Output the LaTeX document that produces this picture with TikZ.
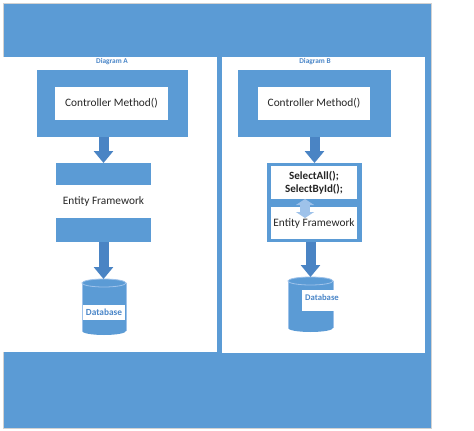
\documentclass[tikz,border=0pt]{standalone}
\usepackage{fontspec}
\setmainfont{Carlito}
\usetikzlibrary{arrows.meta,calc}
\definecolor{mblue}{HTML}{5B9BD5}
\definecolor{ablue}{HTML}{4A84C4}
\definecolor{lblue}{HTML}{9EC2EA}
\definecolor{tblue}{HTML}{4A86C8}
\definecolor{txt}{HTML}{262626}
\begin{document}
\begin{tikzpicture}[x=0.75pt,y=-0.75pt,
  box/.style={rectangle, inner sep=0pt, outer sep=0pt, fill=mblue},
  wbox/.style={rectangle, inner sep=0pt, outer sep=0pt, fill=white, text=txt,
    font=\fontsize{8.5}{10}\selectfont, align=center},
  blockarrow/.style={draw=ablue, line width=7.5pt, -{Triangle[width=14.25pt,length=9pt]}},
  dblarrow/.style={draw=lblue, line width=7pt,
    {Triangle[width=13.5pt,length=4.5pt]}-{Triangle[width=13.5pt,length=4.5pt]}},
  panellabel/.style={font=\bfseries\fontsize{5.5}{6}\selectfont, text=tblue, inner sep=0pt},
  dblabel/.style={font=\bfseries\fontsize{7}{8}\selectfont, text=tblue, inner sep=0pt},
  dbbox/.style={rectangle, inner sep=0pt, outer sep=0pt}]
\useasboundingbox (0,0) rectangle (474,431);
% frame and panels
\fill[mblue] (3,3) rectangle (431,428);
\draw[gray!35, line width=0.4pt] (3,3) rectangle (431,428);
\fill[white] (3,57) rectangle (217,352);
\fill[white] (222,57) rectangle (425,353);
\node[panellabel] (labA) at (112,61.5) {Diagram A};
\node[panellabel] (labB) at (315,61.5) {Diagram B};
% Diagram A
\node[box, minimum width=113.25pt, minimum height=50.25pt] (ctrlA) at (112.5,103.5) {};
\node[wbox, minimum width=84.75pt, minimum height=24.75pt] (ctrlAin) at (111.5,103.5) {Controller Method()};
\node[box, minimum width=71.25pt, minimum height=59.25pt] (efA) at (103.5,202.5) {};
\node[wbox, minimum width=71.25pt, minimum height=24.75pt] (efAin) at (103.5,201.5) {Entity Framework};
\node[dbbox, minimum width=33pt, minimum height=42pt] (dbA) at (104,307) {};
\fill[mblue] (82,283) rectangle (126,331);
\fill[mblue] (104,331) ellipse [x radius=22, y radius=4];
\draw[lblue, line width=0.5pt] (82,283) -- (82,331) (126,283) -- (126,331);
\filldraw[fill=mblue, draw=lblue, line width=0.6pt] (104,283) ellipse [x radius=22, y radius=4];
\node[wbox, minimum width=31.5pt, minimum height=11.25pt, text=tblue,
  font=\bfseries\fontsize{7}{8}\selectfont] (dbAlbl) at (104,312.5) {Database};
\draw[blockarrow] (ctrlA.south -| efA.north) -- (efA.north);
\draw[blockarrow] (efA.south) -- (efA.south |- dbA.north);
% Diagram B
\node[box, minimum width=114.75pt, minimum height=50.25pt] (ctrlB) at (314.5,103.5) {};
\node[wbox, minimum width=84pt, minimum height=24.75pt] (ctrlBin) at (314,103.5) {Controller Method()};
\node[box, minimum width=71.25pt, minimum height=59.25pt] (efB) at (314.5,202.5) {};
\node[wbox, minimum width=64.5pt, minimum height=24.75pt, font=\bfseries\fontsize{8.3}{10}\selectfont] (selB) at (314,182.5) {SelectAll();\\SelectById();};
\node[wbox, minimum width=64.5pt, minimum height=24pt] (efBin) at (314,223) {Entity Framework};
\coordinate (dtip) at ($(efBin.north)+(-9,11)$);
\draw[dblarrow] ($(selB.south)+(-9,0)$) -- (dtip);
\node[dbbox, minimum width=33.75pt, minimum height=41.25pt] (dbB) at (310.5,304.5) {};
\fill[mblue] (288,281) rectangle (333,328);
\fill[mblue] (310.5,328) ellipse [x radius=22.5, y radius=4];
\draw[lblue, line width=0.5pt] (288,281) -- (288,328) (333,281) -- (333,328);
\filldraw[fill=mblue, draw=lblue, line width=0.6pt] (310.5,281) ellipse [x radius=22.5, y radius=4];
\fill[white] (302,290) rectangle (340,311);
\node[dblabel, font=\bfseries\fontsize{6.5}{7}\selectfont] (dbBlbl) at (322,297) {Database};
\draw[blockarrow] (ctrlB.south) -- (efB.north);
\draw[blockarrow] (dbB.north |- efB.south) -- (dbB.north);
\end{tikzpicture}
\end{document}
